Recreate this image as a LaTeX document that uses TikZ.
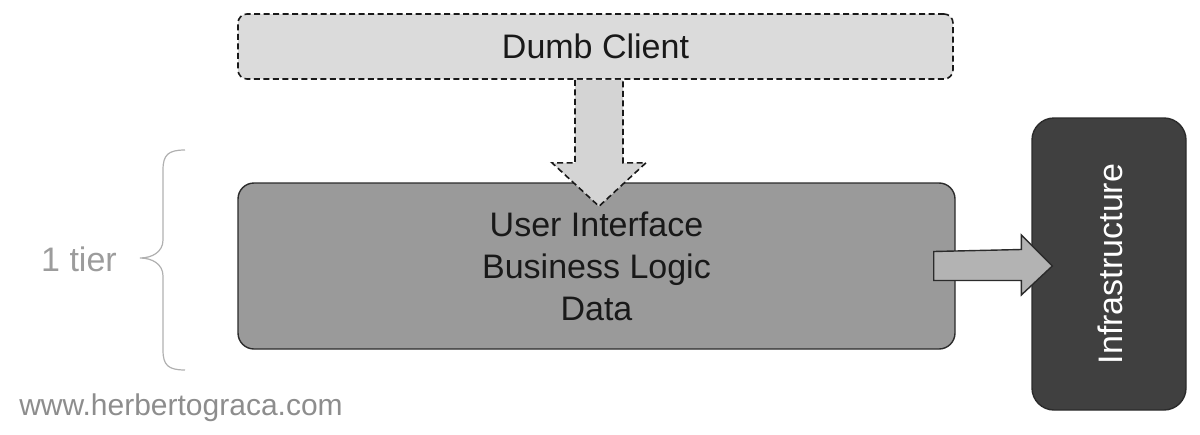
\documentclass[tikz,border=0pt]{standalone}
\usepackage{fontspec}
\setmainfont{Liberation Sans}
\usetikzlibrary{calc}

\definecolor{clientfill}{HTML}{DBDBDB}
\definecolor{corefill}{HTML}{9A9A9A}
\definecolor{infrafill}{HTML}{404040}
\definecolor{arrowfill}{HTML}{B3B3B3}
\definecolor{lineclr}{HTML}{2B2B2B}
\definecolor{notegray}{HTML}{9C9C9C}

\tikzset{%
  box/.style={draw=lineclr, line width=1.4pt, align=center, inner sep=0pt, text=black!90},%
  dashline/.style={draw=black!90, line width=1.6pt, dash pattern=on 6pt off 3.5pt},%
  clientbox/.style={box, dashline, fill=clientfill, rounded corners=9pt,%
    minimum width=715pt, minimum height=65pt},%
  corebox/.style={box, fill=corefill, rounded corners=16pt,%
    minimum width=717pt, minimum height=166pt},%
  infrabox/.style={box, fill=infrafill, rounded corners=22pt,%
    minimum width=154pt, minimum height=292pt},%
  fatarrow/.style={draw=lineclr, line width=1.4pt, line join=miter},%
  note/.style={text=notegray, inner sep=0pt}%
}

\begin{document}
\begin{tikzpicture}[x=1pt,y=-1pt,font=\fontsize{34}{42}\selectfont]%
  \useasboundingbox (0,0) rectangle (1200,434);%
  % the three blocks
  \node[clientbox] (client) at (595.5,46.5) {Dumb Client};%
  \node[corebox] (core) at (596.5,266) {User Interface\\Business Logic\\Data};%
  \node[infrabox] (infra) at (1109,264) {};%
  \node[rotate=90, text=white, inner sep=0pt] (infralabel) at (1110,264) {Infrastructure};%
  % dashed arrow from the client down into the core
  \coordinate (dtop) at ($(client.south)+(3.5,0)$);%
  \coordinate (dtip) at ($(core.north)+(2.5,24)$);%
  \draw[fatarrow, dashline, fill=clientfill!97!black]%
    ($(dtop)+(-24,0)$) -- ($(dtop)+(-24,83)$) -- ($(dtop)+(-47,83)$) -- (dtip)%
    -- ($(dtop)+(47,83)$) -- ($(dtop)+(24,83)$) -- ($(dtop)+(24,0)$);%
  % solid arrow from the core to the infrastructure
  \coordinate (rtail) at ($(core.east)+(-22,0)$);%
  \coordinate (rtip) at ($(infra.west)+(21,2)$);%
  \draw[fatarrow, fill=arrowfill]%
    ($(rtail)+(0,-14.5)$) -- ($(rtip)+(-31,-16.5)$) -- ($(rtip)+(-31,-31)$) -- (rtip)%
    -- ($(rtip)+(-31,29)$) -- ($(rtip)+(-31,14.5)$) -- ($(rtail)+(0,14.5)$) -- cycle;%
  % brace and notes on the left
  \draw[notegray!80, line width=1.2pt]%
    (185,150) .. controls (168,150) and (163,155) .. (163,170) -- (163,240)%
    .. controls (163,252) and (152,258) .. (140,258)%
    .. controls (152,258) and (163,264) .. (163,276) -- (163,350)%
    .. controls (163,365) and (168,370) .. (185,370);%
  \node[note] (tier) at (79,259) {1 tier};%
  \node[note, text=notegray!90!black, font=\fontsize{30}{36}\selectfont] (site) at (181,408) {www.herbertograca.com};%
\end{tikzpicture}
\end{document}
